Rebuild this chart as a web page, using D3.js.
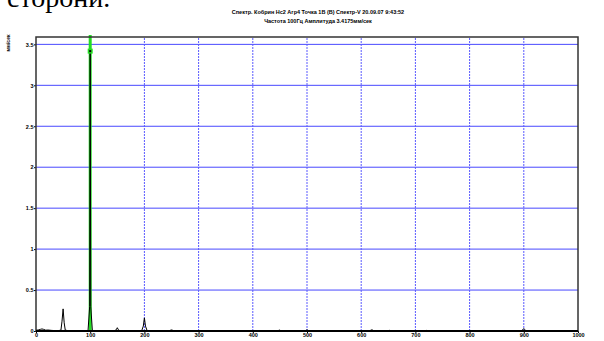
<!DOCTYPE html>
<html>
<head>
<meta charset="utf-8">
<script src="https://cdn.jsdelivr.net/npm/d3@7/dist/d3.min.js"></script>
<style>
  body { margin: 0; background: #fff; }
  svg text { font-family: "Liberation Sans", Arial, sans-serif; }
</style>
</head>
<body>
<div id="chart"></div>
<script>
// chart text
var titleLines = ["Спектр. Кобрин Нс2 Агр4 Точка 1В (В) Спектр-V 20.09.07 9:43:52",
                  "Частота 100Гц Амплитуда 3.4175мм/сек"];
var yLabel = "мм/сек";
var pageText = "сторони.";

// spectrum (Hz, mm/s)
var freqs = [0, 4, 8, 11, 14, 18, 22, 28, 34, 40, 46, 48, 50, 52, 54, 60, 96, 99, 100, 101, 104,
             145, 148, 150, 152, 155, 195, 198, 200, 202, 205, 246, 249, 251, 254, 445, 448, 450, 452,
             497, 499, 501, 503, 615, 618, 620, 623, 650, 652, 654, 718, 720, 722, 896, 898, 900, 902, 904, 1000];
var amps  = [0.01, 0.012, 0.02, 0.025, 0.02, 0.01, 0.012, 0.008, 0.005, 0.004, 0.01, 0.12, 0.27, 0.1, 0.01, 0.004,
             0.005, 0.3, 3.4175, 0.3, 0.005,
             0.003, 0.015, 0.04, 0.015, 0.003, 0.004, 0.06, 0.16, 0.06, 0.004, 0.002, 0.012, 0.012, 0.002,
             0.002, 0.008, 0.012, 0.002, 0.002, 0.012, 0.012, 0.002, 0.002, 0.01, 0.015, 0.002,
             0.002, 0.008, 0.002, 0.002, 0.008, 0.002, 0.002, 0.015, 0.03, 0.015, 0.002, 0.002];

var xTicks = [0, 100, 200, 300, 400, 500, 600, 700, 800, 900, 1000];
var yTicks = [0, 0.5, 1, 1.5, 2, 2.5, 3, 3.5];
var markerFreq = 100, markerAmp = 3.4175;

var width = 604, height = 341;
var margin = {top: 37, right: 26, bottom: 10, left: 36};

var svg = d3.select("#chart").append("svg")
    .attr("width", width).attr("height", height);

// cropped page text above the chart (cut at the top edge, as in the source)
svg.append("text")
    .attr("x", 7).attr("y", 7)
    .style("font-family", "'Liberation Serif', 'Times New Roman', serif")
    .style("font-size", "28px")
    .text(pageText);

svg.selectAll(".title").data(titleLines).enter().append("text")
    .attr("x", 318).attr("y", function(d, i) { return 14 + i * 9; })
    .attr("text-anchor", "middle")
    .style("font-size", "5.5px").style("font-weight", "bold")
    .text(function(d) { return d; });

var x = d3.scaleLinear().domain([0, 1000]).range([margin.left, width - margin.right]);
var y = d3.scaleLinear().domain([0, 3.59]).range([height - margin.bottom, margin.top]);

// grid
svg.selectAll(".hgrid").data(yTicks.filter(function(d) { return d > 0; })).enter().append("line")
    .attr("x1", x(0)).attr("x2", x(1000))
    .attr("y1", function(d) { return y(d); }).attr("y2", function(d) { return y(d); })
    .attr("stroke", "#4848ff").attr("stroke-width", 1);
svg.selectAll(".vgrid").data(xTicks.filter(function(d) { return d > 0 && d < 1000; })).enter().append("line")
    .attr("y1", y(0)).attr("y2", y(3.59))
    .attr("x1", function(d) { return x(d); }).attr("x2", function(d) { return x(d); })
    .attr("stroke", "#5a5aff").attr("stroke-width", 1).attr("stroke-dasharray", "2,1");

// axes
var xAxis = d3.axisBottom(x).tickValues(xTicks).tickSize(2).tickFormat(d3.format("d"));
var gx = svg.append("g").attr("transform", "translate(0," + y(0) + ")").call(xAxis);
gx.select(".domain").remove();
gx.selectAll("text").attr("dy", "0.2em").style("font-size", "5.5px").style("font-weight", "bold");

var yAxis = d3.axisLeft(y).tickValues(yTicks).tickSize(2).tickFormat(function(d) { return String(d); });
var gy = svg.append("g").attr("transform", "translate(" + x(0) + ",0)").call(yAxis);
gy.select(".domain").remove();
gy.selectAll("text").attr("x", -2.5).style("font-size", "5.5px").style("font-weight", "bold");

svg.append("text")
    .attr("transform", "translate(10," + 43 + ") rotate(-90)")
    .attr("text-anchor", "middle")
    .style("font-size", "5px").style("font-weight", "bold")
    .text(yLabel);

// marker line
svg.append("line")
    .attr("x1", x(markerFreq)).attr("x2", x(markerFreq))
    .attr("y1", y(0)).attr("y2", y(3.59) - 2)
    .attr("stroke", "#22dd22").attr("stroke-width", 3);

// spectrum
var line = d3.line()
    .x(function(d, i) { return x(freqs[i]); })
    .y(function(d) { return y(d); });
svg.append("path")
    .datum(amps)
    .attr("d", line)
    .attr("fill", "none").attr("stroke", "#000").attr("stroke-width", 1);

// marker point
svg.append("rect")
    .attr("x", x(markerFreq) - 2.5).attr("y", y(markerAmp) - 2.5)
    .attr("width", 5).attr("height", 5)
    .attr("fill", "#22dd22");
svg.append("rect")
    .attr("x", x(markerFreq) - 1).attr("y", y(markerAmp) - 1)
    .attr("width", 2).attr("height", 2)
    .attr("fill", "#000");

// frame
svg.append("rect")
    .attr("x", x(0)).attr("y", y(3.59))
    .attr("width", x(1000) - x(0)).attr("height", y(0) - y(3.59))
    .attr("fill", "none").attr("stroke", "#333").attr("stroke-width", 1.5);
svg.append("line")
    .attr("x1", x(0)).attr("x2", x(1000)).attr("y1", y(0)).attr("y2", y(0))
    .attr("stroke", "#000").attr("stroke-width", 2);
</script>
</body>
</html>
